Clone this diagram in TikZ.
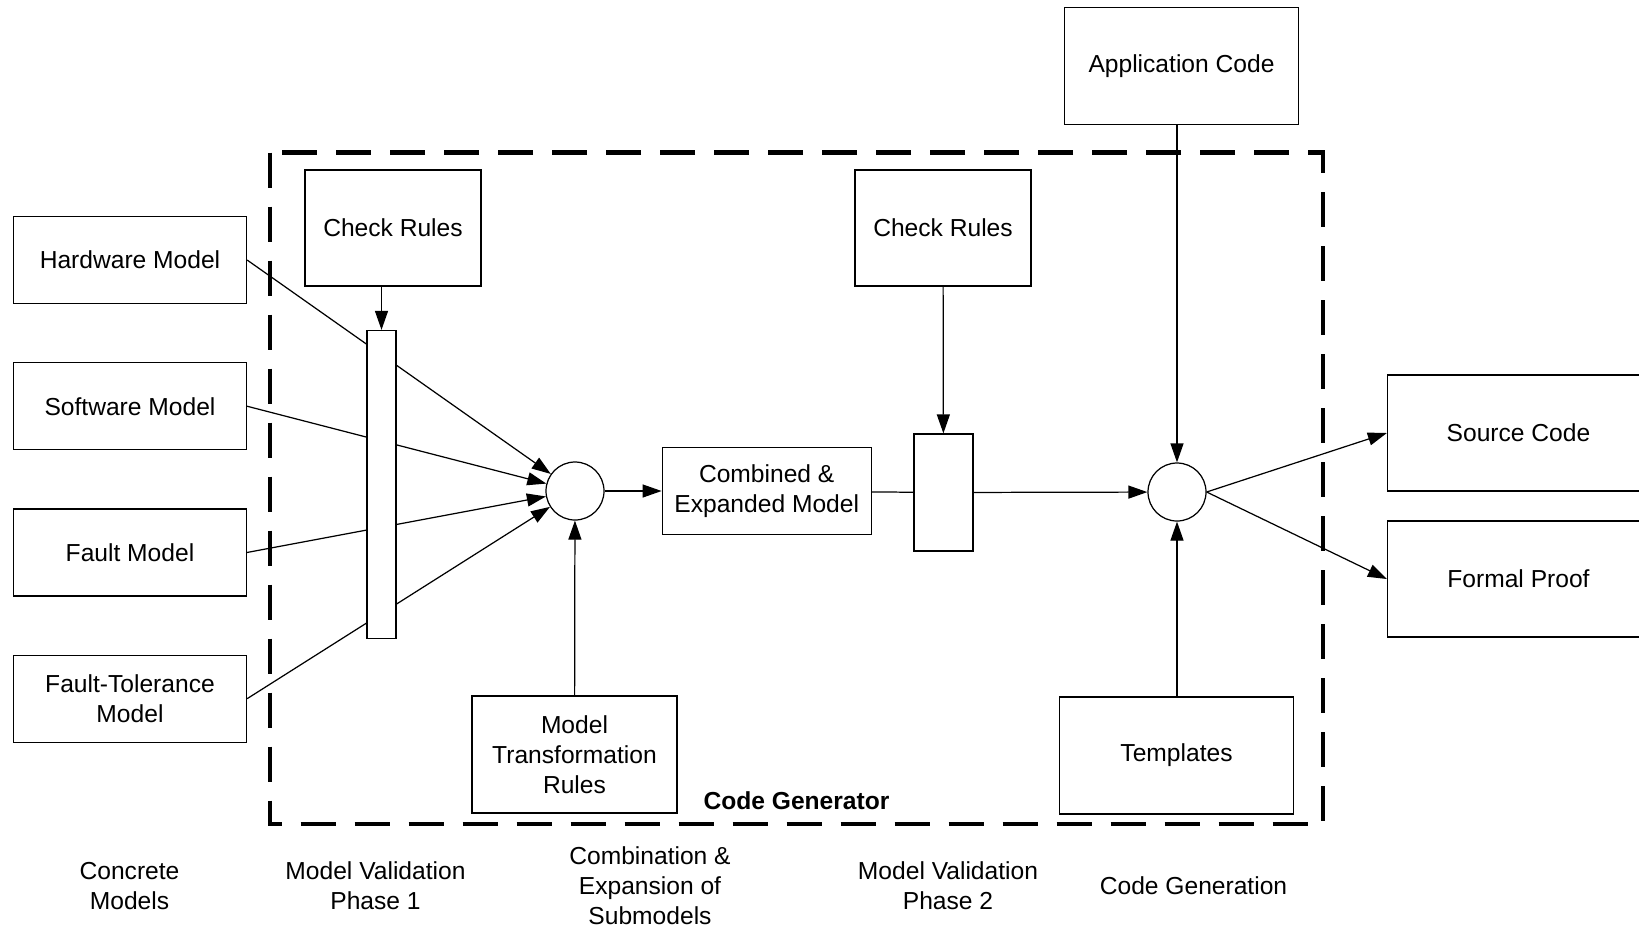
\documentclass[tikz,border=0pt]{standalone}
\usepackage{fontspec}
\setmainfont{Liberation Sans}
\usetikzlibrary{shapes,arrows.meta,positioning}

\begin{document}
\begin{tikzpicture}[
            font=\fontsize{14}{17}\selectfont,
            node distance=1.16cm,
            block/.style={rectangle, draw, line width=0.7pt, fill=white, align=center, inner sep=0pt, minimum width=4.66cm, minimum height=1.74cm},
            rules/.style={block, minimum width=3.52cm, minimum height=2.32cm},
            output/.style={block, minimum width=5.24cm, minimum height=2.32cm},
            checker/.style={rectangle, draw, line width=0.7pt, fill=white, inner sep=0pt},
            junction/.style={circle, draw, line width=0.7pt, fill=white, inner sep=0pt, minimum size=1.16cm},
            arrow/.style={-{Triangle[length=0.38cm,width=0.26cm]}, line width=0.7pt},
            link/.style={line width=0.7pt},
            frame/.style={line width=2.3pt, dash pattern=on 0.70cm off 0.38cm},
            phase/.style={align=center, inner sep=0pt}
        ]
            \useasboundingbox (0,0) rectangle (32.78,-18.58);

            % Concrete models
            \node[block] (hw) at (2.60,-5.20) {Hardware Model};
            \node[block, below=of hw] (sw) {Software Model};
            \node[block, below=of sw] (fault) {Fault Model};
            \node[block, below=of fault] (ft) {Fault-Tolerance\\Model};

            % Code generator frame
            \draw[frame] (5.40,-3.05) rectangle (26.46,-16.48);
            \node[font=\fontsize{14}{17}\selectfont\bfseries] (codegen) at (15.93,-16.02) {Code Generator};

            % Combination
            \node[junction] (join) at (11.50,-9.82) {};
            \node[block, minimum width=4.18cm, right=1.14cm of join] (combined) {Combined \&\\Expanded Model};
            \node[block, minimum width=4.10cm, minimum height=2.34cm] (transform) at (11.49,-15.09) {Model\\Transformation\\Rules};

            \draw[arrow] (hw.east) -- (join);
            \draw[arrow] (sw.east) -- (join);
            \draw[arrow] (fault.east) -- (join);
            \draw[arrow] (ft.east) -- (join);
            \draw[arrow] (join) -- (combined);
            \draw[arrow] (transform) -- (join);

            % Validation phase 1
            \node[rules] (check1) at (7.86,-4.56) {Check Rules};
            \node[checker, minimum width=0.58cm, minimum height=6.16cm] (valid1) at (7.63,-9.69) {};
            \draw[arrow] (check1.south -| valid1) -- (valid1);

            % Validation phase 2
            \node[rules] (check2) at (18.86,-4.56) {Check Rules};
            \node[checker, minimum width=1.18cm, minimum height=2.34cm] (valid2) at (18.87,-9.85) {};
            \draw[arrow] (check2) -- (valid2);

            % Code generation
            \node[junction] (gen) at (23.54,-9.84) {};
            \node[block, minimum width=4.68cm, minimum height=2.33cm] (appcode) at (23.63,-1.32) {Application Code};
            \node[block, minimum width=4.68cm, minimum height=2.34cm] (templates) at (23.53,-15.11) {Templates};
            \node[output] (source) at (30.37,-8.66) {Source Code};
            \node[output] (proof) at (30.37,-11.58) {Formal Proof};

            \draw[link] (combined) -- (valid2);
            \draw[arrow] (valid2) -- (gen);
            \draw[arrow] (appcode.south -| gen) -- (gen);
            \draw[arrow] (templates.north -| gen) -- (gen);
            \draw[arrow] (gen.east) -- (source.west);
            \draw[arrow] (gen.east) -- (proof.west);

            % Phases
            \node[phase] (concrete) at (2.59,-17.72) {Concrete\\Models};
            \node[phase] (phase1) at (7.51,-17.72) {Model Validation\\Phase 1};
            \node[phase] (combination) at (13.00,-17.72) {Combination \&\\Expansion of\\Submodels};
            \node[phase] (phase2) at (18.96,-17.72) {Model Validation\\Phase 2};
            \node[phase] (generation) at (23.87,-17.72) {Code Generation};
        \end{tikzpicture}
\end{document}
